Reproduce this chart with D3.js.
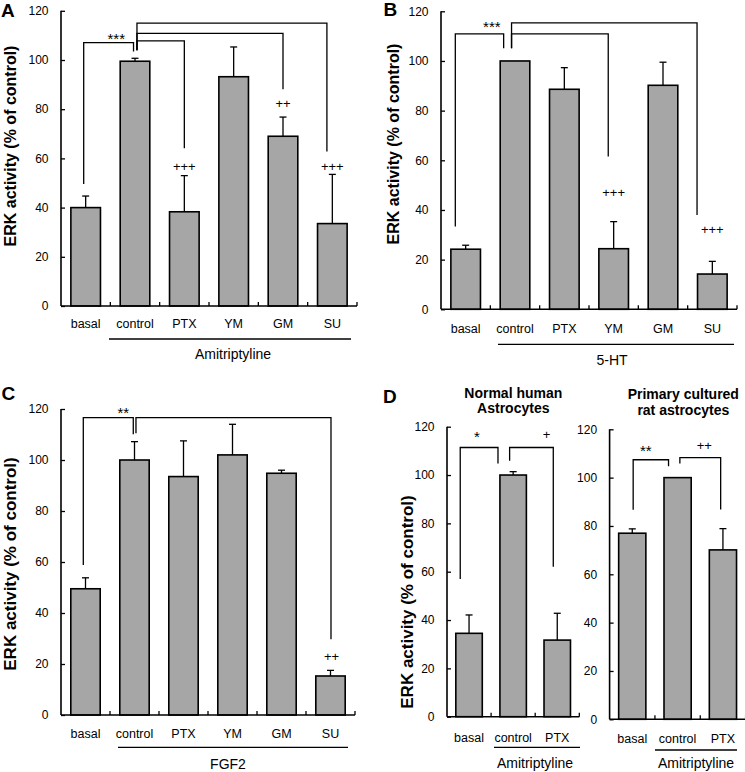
<!DOCTYPE html>
<html><head><meta charset="utf-8">
<script src="https://cdn.jsdelivr.net/npm/d3@7"></script>
<style>
body{margin:0;background:#fff}
svg{display:block;background:#fff}
text{font-family:"Liberation Sans",Arial,Helvetica,sans-serif;fill:#000}
</style>
</head><body>
<svg id="chart" width="745" height="772"></svg>
<script>
// ---------- data ----------
const yTicks = [0, 20, 40, 60, 80, 100, 120];
const catsSix = ["basal", "control", "PTX", "YM", "GM", "SU"];
const catsThree = ["basal", "control", "PTX"];

const valuesA = [40.0, 99.5, 38.3, 93.2, 69.0, 33.5];
const errTopA = [44.7, 100.7, 53.0, 105.3, 76.8, 53.5];
const valuesB = [24.2, 100, 88.6, 24.4, 90.2, 14.2];
const errTopB = [25.8, 100, 97.3, 35.3, 99.5, 19.3];
const valuesC = [49.5, 100, 93.5, 102, 94.8, 15.3];
const errTopC = [53.8, 107.2, 107.5, 114, 96.0, 17.5];
const valuesD1 = [34.5, 100, 31.7];
const errTopD1 = [42.1, 101.4, 42.8];
const valuesD2 = [77.0, 100, 70.1];
const errTopD2 = [78.8, 100, 78.9];

// brackets: [start category index, start value, top value, end category index, end value]
const bracketsA = [[-0.04, 49.6, 107.1, 0.97, 103.5], [1.04, 104, 107.8, 2.0, 64.1], [1.04, 104, 110.8, 4.0, 88.1], [1.04, 104, 115.0, 4.89, 62.8]];
const bracketsB = [[-0.21, 33.3, 110.9, 0.77, 105.1], [0.93, 105.1, 110.9, 2.89, 61.5], [0.93, 105.1, 115.3, 4.69, 38.0]];
const bracketsC = [[-0.045, 58.8, 116.6, 0.975, 110.1], [1.03, 110.5, 116.6, 5.01, 29.7]];
const bracketsD1 = [[-0.2, 57.0, 111.4, 0.656, 104.8], [0.92, 105.9, 111.4, 1.91, 62.1]];
const bracketsD2 = [[0.02, 86.7, 107.4, 0.80, 104.7], [1.05, 105.8, 108.3, 1.95, 86.8]];

// significance marks: [category index, value (centre), text]
const marksA = [[0.62, 109.9, "***"], [2, 56.7, "+++"], [4, 82.5, "++"], [5, 56.7, "+++"]];
const marksB = [[0.53, 115.2, "***"], [3, 47.0, "+++"], [5, 32.2, "+++"]];
const marksC = [[0.77, 119.9, "**"], [5.02, 22.9, "++"]];
const marksD1 = [[0.18, 117.3, "*"], [1.76, 117.0, "+"]];
const marksD2 = [[0.30, 112.6, "**"], [1.59, 113.3, "++"]];

const groupA = "Amitriptyline", groupB = "5-HT", groupC = "FGF2", groupD1 = "Amitriptyline", groupD2 = "Amitriptyline";
const yTitle = "ERK activity (% of control)";
const titleD1 = ["Normal human", "Astrocytes"];
const titleD2 = ["Primary cultured", "rat astrocytes"];

// ---------- drawing ----------
const svg = d3.select("#chart");
const BAR = "#a6a6a6";

function panel(cfg) {
  const g = svg.append("g");
  const x = d3.scaleBand().domain(cfg.cats).range([cfg.left, cfg.left + cfg.width]).paddingInner(0.4).paddingOuter(0.2);
  const y = d3.scaleLinear().domain([0, 120]).range([cfg.bottom, cfg.top]);
  const step = x.step();
  const xi = i => x(cfg.cats[0]) + x.bandwidth() / 2 + i * step;

  // bars
  g.selectAll("rect.bar").data(cfg.values).join("rect")
    .attr("x", (d, i) => x(cfg.cats[i])).attr("width", x.bandwidth())
    .attr("y", d => y(d)).attr("height", d => y(0) - y(d))
    .attr("fill", BAR).attr("stroke", "#000").attr("stroke-width", 1.6);

  // error bars
  cfg.errs.forEach((e, i) => {
    if (e - cfg.values[i] < 0.3) return;
    const cx = x(cfg.cats[i]) + x.bandwidth() / 2;
    g.append("line").attr("x1", cx).attr("x2", cx).attr("y1", y(cfg.values[i])).attr("y2", y(e))
      .attr("stroke", "#000").attr("stroke-width", 1.3);
    g.append("line").attr("x1", cx - 3.5).attr("x2", cx + 3.5).attr("y1", y(e)).attr("y2", y(e))
      .attr("stroke", "#000").attr("stroke-width", 1.3);
  });

  // y axis (ticks inward)
  const yAxis = d3.axisRight(y).tickValues(yTicks).tickSize(4).tickFormat("");
  const ya = g.append("g").attr("transform", `translate(${cfg.left},0)`).call(yAxis);
  ya.select(".domain").attr("d", `M0,${y(0)}V${y(120)}`).attr("stroke-width", 1.6);
  ya.selectAll(".tick line").attr("stroke-width", 1.3);
  g.selectAll("text.ytl").data(yTicks).join("text")
    .attr("x", cfg.left - 12.5).attr("y", d => y(d)).attr("dy", "0.35em")
    .attr("text-anchor", "end").attr("font-size", 12).text(d => d);

  // x axis (ticks upward at boundaries)
  g.append("line").attr("x1", cfg.left).attr("x2", cfg.left + cfg.width)
    .attr("y1", y(0)).attr("y2", y(0)).attr("stroke", "#000").attr("stroke-width", 1.6);
  d3.range(1, cfg.cats.length + 1).forEach(k => {
    const tx = cfg.left + k * step;
    g.append("line").attr("x1", tx).attr("x2", tx).attr("y1", y(0)).attr("y2", y(0) - 4)
      .attr("stroke", "#000").attr("stroke-width", 1.3);
  });
  g.selectAll("text.cat").data(cfg.cats).join("text")
    .attr("x", d => x(d) + x.bandwidth() / 2).attr("y", cfg.catBase)
    .attr("text-anchor", "middle").attr("font-size", 12.5).text(d => d);

  // group underline + label
  g.append("line").attr("x1", cfg.lineX[0]).attr("x2", cfg.lineX[1]).attr("y1", cfg.lineY).attr("y2", cfg.lineY)
    .attr("stroke", "#000").attr("stroke-width", 1.3);
  g.append("text").attr("x", cfg.groupX).attr("y", cfg.groupBase).attr("text-anchor", "middle")
    .attr("font-size", 14).text(cfg.group);

  // brackets
  cfg.brackets.forEach(b => {
    g.append("path")
      .attr("d", `M${xi(b[0])},${y(b[1])}V${y(b[2])}H${xi(b[3])}V${y(b[4])}`)
      .attr("fill", "none").attr("stroke", "#000").attr("stroke-width", 1.3);
  });
  // marks
  cfg.marks.forEach(m => {
    const star = m[2].includes("*");
    const fs = star ? 15 : 13;
    g.append("text").attr("x", xi(m[0])).attr("y", y(m[1]) + (star ? 0.58 : 0.35) * fs)
      .attr("text-anchor", "middle").attr("font-size", fs).text(m[2]);
  });

  // y title
  if (cfg.titleX !== undefined) {
    g.append("text").attr("transform", `translate(${cfg.titleX},${cfg.titleY}) rotate(-90)`)
      .attr("text-anchor", "middle").attr("font-size", cfg.titleSize).attr("font-weight", "bold").text(yTitle);
  }
  if (cfg.letter) {
    g.append("text").attr("x", cfg.letter[1]).attr("y", cfg.letter[2]).attr("font-size", 19)
      .attr("font-weight", "bold").text(cfg.letter[0]);
  }
  if (cfg.sub) {
    cfg.sub.forEach((s, k) => {
      g.append("text").attr("x", cfg.subX).attr("y", cfg.subY[k]).attr("text-anchor", "middle")
        .attr("font-size", 14).attr("font-weight", "bold").text(s);
    });
  }
}

panel({cats: catsSix, values: valuesA, errs: errTopA, brackets: bracketsA, marks: marksA, group: groupA,
  left: 61, width: 296, bottom: 306, top: 10.8, catBase: 328, lineY: 339, lineX: [109, 351], groupX: 233, groupBase: 359,
  titleX: 16, titleY: 146, titleSize: 16, letter: ["A", 1, 17]});
panel({cats: catsSix, values: valuesB, errs: errTopB, brackets: bracketsB, marks: marksB, group: groupB,
  left: 441, width: 296, bottom: 309.3, top: 11.3, catBase: 333, lineY: 344.3, lineX: [498, 734], groupX: 612, groupBase: 365,
  titleX: 398.7, titleY: 144, titleSize: 16, letter: ["B", 383.5, 16]});
panel({cats: catsSix, values: valuesC, errs: errTopC, brackets: bracketsC, marks: marksC, group: groupC,
  left: 61, width: 294, bottom: 715, top: 409, catBase: 738, lineY: 747.3, lineX: [118, 348], groupX: 228, groupBase: 768.5,
  titleX: 15.5, titleY: 564, titleSize: 17, letter: ["C", 1.5, 400]});
panel({cats: catsThree, values: valuesD1, errs: errTopD1, brackets: bracketsD1, marks: marksD1, group: groupD1,
  left: 447, width: 132.3, bottom: 716.7, top: 426.7, catBase: 741.5, lineY: 747.3, lineX: [494, 580], groupX: 535, groupBase: 767.5,
  titleX: 413.3, titleY: 602, titleSize: 17, letter: ["D", 383, 403],
  sub: titleD1, subX: 513.3, subY: [398.3, 413.3]});
panel({cats: catsThree, values: valuesD2, errs: errTopD2, brackets: bracketsD2, marks: marksD2, group: groupD2,
  left: 609.6, width: 136, bottom: 719.3, top: 429.3, catBase: 743, lineY: 750, lineX: [655, 737], groupX: 696, groupBase: 768,
  sub: titleD2, subX: 683.3, subY: [399.3, 415]});
</script>
</body></html>
